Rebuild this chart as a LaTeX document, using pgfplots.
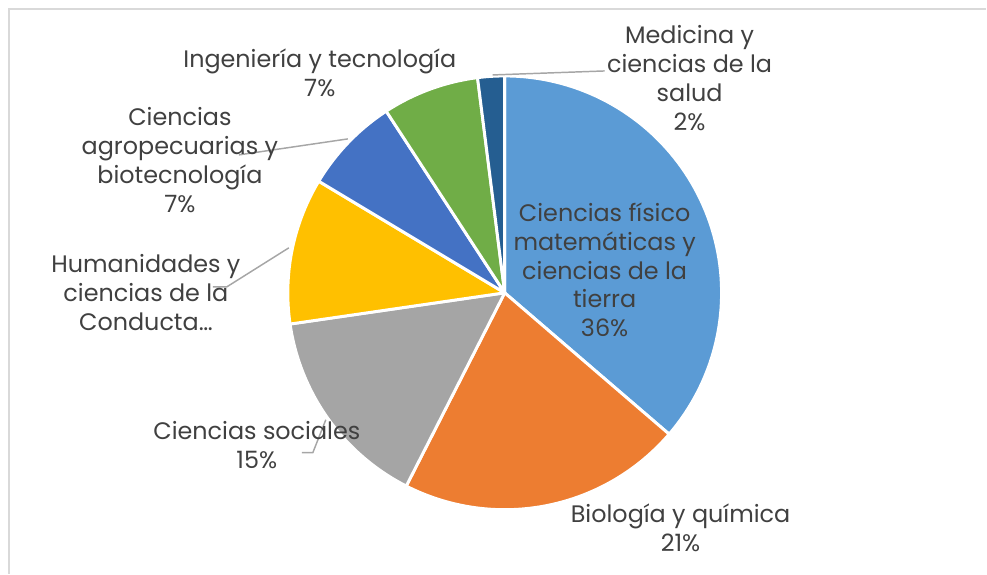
\documentclass[border=0pt]{standalone}
\usepackage{pgfplots}
\pgfplotsset{compat=1.18}
\usepackage{fontspec}
\setmainfont{Poppins}
\definecolor{cA}{HTML}{5B9BD5}
\definecolor{cB}{HTML}{ED7D31}
\definecolor{cC}{HTML}{A5A5A5}
\definecolor{cD}{HTML}{FFC000}
\definecolor{cE}{HTML}{4472C4}
\definecolor{cF}{HTML}{70AD47}
\definecolor{cG}{HTML}{255E91}
\definecolor{txt}{HTML}{404040}
\definecolor{lead}{HTML}{A6A6A6}
\definecolor{frame}{HTML}{D9D9D9}
% shares (percent)
\def\vA{36.3}\def\vB{21.2}\def\vC{15.2}\def\vD{10.9}\def\vE{7.2}\def\vF{7.2}\def\vG{2.0}
\begin{document}
\begin{tikzpicture}
\pgfmathsetmacro\aA{90}
\pgfmathsetmacro\aB{\aA-3.6*\vA}
\pgfmathsetmacro\aC{\aB-3.6*\vB}
\pgfmathsetmacro\aD{\aC-3.6*\vC}
\pgfmathsetmacro\aE{\aD-3.6*\vD}
\pgfmathsetmacro\aF{\aE-3.6*\vE}
\pgfmathsetmacro\aG{\aF-3.6*\vF}
\pgfmathsetmacro\aH{\aG-3.6*\vG}
\begin{axis}[
  width=740.25pt, height=430.5pt, scale only axis,
  xmin=0, xmax=987, ymin=0, ymax=574,
  hide axis, clip=false,
]
\path (axis cs:0,0) rectangle (axis cs:987,574);
\draw[frame, line width=0.9pt] (axis cs:9,0) -- (axis cs:9,565) -- (axis cs:987,565);
\def\cx{505}\def\cy{281}\def\R{217}
\addplot[fill=cA, draw=white, line width=2.2pt, line join=round, domain=\aB:\aA, samples=80, variable=\t]
  ({\cx+\R*cos(\t)},{\cy+\R*sin(\t)}) -- (axis cs:\cx,\cy) -- cycle;
\addplot[fill=cB, draw=white, line width=2.2pt, line join=round, domain=\aC:\aB, samples=60, variable=\t]
  ({\cx+\R*cos(\t)},{\cy+\R*sin(\t)}) -- (axis cs:\cx,\cy) -- cycle;
\addplot[fill=cC, draw=white, line width=2.2pt, line join=round, domain=\aD:\aC, samples=50, variable=\t]
  ({\cx+\R*cos(\t)},{\cy+\R*sin(\t)}) -- (axis cs:\cx,\cy) -- cycle;
\addplot[fill=cD, draw=white, line width=2.2pt, line join=round, domain=\aE:\aD, samples=40, variable=\t]
  ({\cx+\R*cos(\t)},{\cy+\R*sin(\t)}) -- (axis cs:\cx,\cy) -- cycle;
\addplot[fill=cE, draw=white, line width=2.2pt, line join=round, domain=\aF:\aE, samples=30, variable=\t]
  ({\cx+\R*cos(\t)},{\cy+\R*sin(\t)}) -- (axis cs:\cx,\cy) -- cycle;
\addplot[fill=cF, draw=white, line width=2.2pt, line join=round, domain=\aG:\aF, samples=30, variable=\t]
  ({\cx+\R*cos(\t)},{\cy+\R*sin(\t)}) -- (axis cs:\cx,\cy) -- cycle;
\addplot[fill=cG, draw=white, line width=2.2pt, line join=round, domain=\aH:\aG, samples=10, variable=\t]
  ({\cx+\R*cos(\t)},{\cy+\R*sin(\t)}) -- (axis cs:\cx,\cy) -- cycle;
% leader lines
\draw[lead, line width=1.1pt] (axis cs:493,499) -- (axis cs:605,503);
\draw[lead, line width=1.1pt] (axis cs:239,419) -- (axis cs:348,435);
\draw[lead, line width=1.1pt] (axis cs:213,287) -- (axis cs:227,287) -- (axis cs:289,326);
\draw[lead, line width=1.1pt] (axis cs:302,121) -- (axis cs:313,121) -- (axis cs:326,154);
% labels
\tikzset{lbl/.style={text=txt, align=center, font=\fontsize{17.9}{21.75}\selectfont, inner sep=0pt}}
\node[lbl] at (axis cs:605,304) {Ciencias físico\\matemáticas y\\ciencias de la\\tierra\\36\%};
\node[lbl] at (axis cs:681,46) {Biología y química\\21\%};
\node[lbl] at (axis cs:257,129) {Ciencias sociales\\15\%};
\node[lbl] at (axis cs:146,281) {Humanidades y\\ciencias de la\\Conducta…};
\node[lbl] at (axis cs:180,414) {Ciencias\\agropecuarias y\\biotecnología\\7\%};
\node[lbl] at (axis cs:320,501) {Ingeniería y tecnología\\7\%};
\node[lbl] at (axis cs:690,496) {Medicina y\\ciencias de la\\salud\\2\%};
\end{axis}
\end{tikzpicture}
\end{document}
